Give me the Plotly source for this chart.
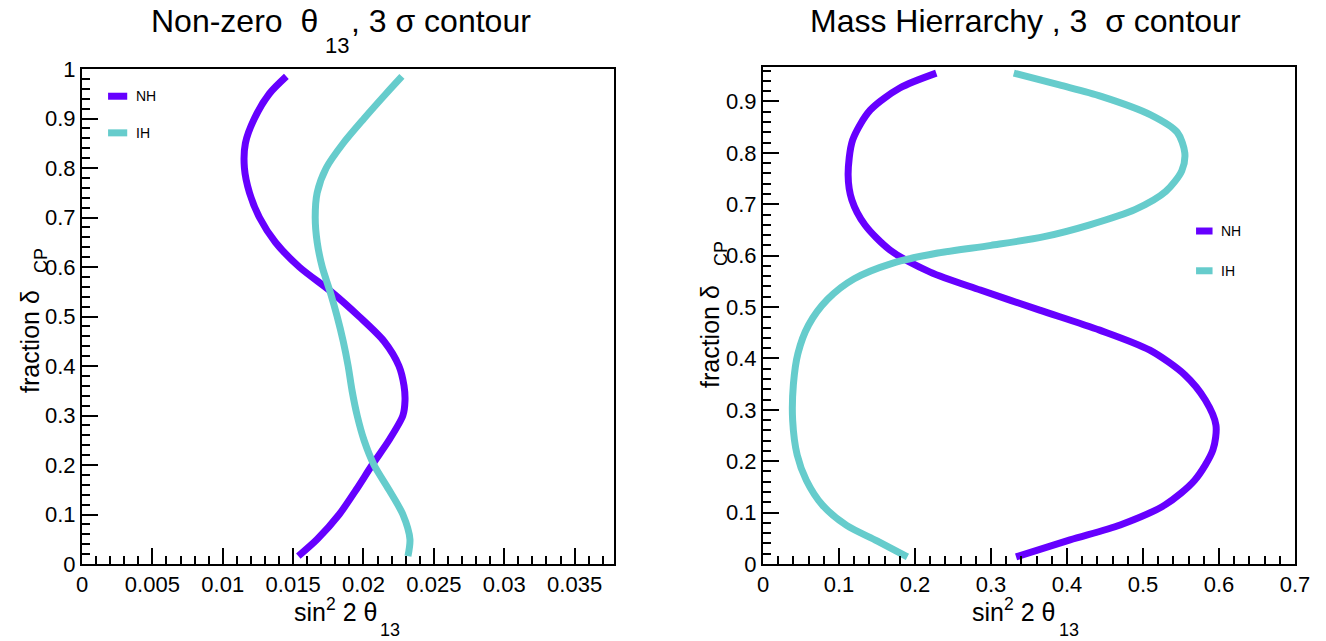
import plotly.graph_objects as go

FONT = "Liberation Sans, Arial, Helvetica, sans-serif"
NH_COLOR = "#6600ff"
IH_COLOR = "#66cccc"
LINE_W = 7

# ---- Non-zero theta13, 3 sigma contour ----
nz_nh_x = [0.01537, 0.01671, 0.01827, 0.01948, 0.02061, 0.02181, 0.02280, 0.02295,
           0.02288, 0.02252, 0.02146, 0.01969, 0.01771, 0.01544, 0.01374, 0.01261,
           0.01190, 0.01154, 0.01161, 0.01225, 0.01331, 0.01452]
nz_nh_y = [0.016, 0.05, 0.10, 0.15, 0.20, 0.25, 0.30, 0.33,
           0.36, 0.40, 0.45, 0.50, 0.55, 0.60, 0.65, 0.70,
           0.75, 0.80, 0.85, 0.90, 0.95, 0.985]

nz_ih_x = [0.02316, 0.02330, 0.02280, 0.02181, 0.02075, 0.02004, 0.01955, 0.01919,
           0.01891, 0.01856, 0.01813, 0.01763, 0.01707, 0.01671, 0.01657, 0.01671,
           0.01735, 0.01856, 0.02004, 0.02160, 0.02273]
nz_ih_y = [0.016, 0.05, 0.10, 0.15, 0.20, 0.25, 0.30, 0.35,
           0.40, 0.45, 0.50, 0.55, 0.60, 0.65, 0.70, 0.75,
           0.80, 0.85, 0.90, 0.95, 0.985]

# ---- Mass hierarchy, 3 sigma contour ----
mh_nh_x = [0.333, 0.404, 0.470, 0.529, 0.568, 0.592, 0.596, 0.582, 0.555, 0.509,
           0.443, 0.364, 0.286, 0.220, 0.167, 0.134, 0.117, 0.112, 0.118, 0.141,
           0.180, 0.228]
mh_nh_y = [0.014, 0.047, 0.076, 0.115, 0.163, 0.222, 0.270, 0.319, 0.368, 0.416,
           0.455, 0.494, 0.533, 0.568, 0.611, 0.660, 0.708, 0.757, 0.825, 0.883,
           0.926, 0.955]

mh_ih_x = [0.190, 0.150, 0.110, 0.078, 0.057, 0.045, 0.039, 0.040, 0.046, 0.060,
           0.085, 0.120, 0.170, 0.230, 0.300, 0.370, 0.430, 0.490, 0.530, 0.551,
           0.555, 0.545, 0.510, 0.445, 0.390, 0.330]
mh_ih_y = [0.014, 0.045, 0.075, 0.115, 0.163, 0.212, 0.280, 0.350, 0.410, 0.465,
           0.515, 0.555, 0.585, 0.605, 0.620, 0.637, 0.660, 0.690, 0.725, 0.765,
           0.800, 0.840, 0.874, 0.910, 0.932, 0.955]

# ---- Axis ticks ----
nz_xticks = [0, 0.005, 0.01, 0.015, 0.02, 0.025, 0.03, 0.035]
nz_xlabels = ["0", "0.005", "0.01", "0.015", "0.02", "0.025", "0.03", "0.035"]
nz_yticks = [0, 0.1, 0.2, 0.3, 0.4, 0.5, 0.6, 0.7, 0.8, 0.9, 1.0]
nz_ylabels = ["0", "0.1", "0.2", "0.3", "0.4", "0.5", "0.6", "0.7", "0.8", "0.9", "1"]
mh_xticks = [0, 0.1, 0.2, 0.3, 0.4, 0.5, 0.6, 0.7]
mh_xlabels = ["0", "0.1", "0.2", "0.3", "0.4", "0.5", "0.6", "0.7"]
mh_yticks = [0, 0.1, 0.2, 0.3, 0.4, 0.5, 0.6, 0.7, 0.8, 0.9]
mh_ylabels = ["0", "0.1", "0.2", "0.3", "0.4", "0.5", "0.6", "0.7", "0.8", "0.9"]

W, H = 1326, 641

fig = go.Figure()

def curve(x, y, color, xa, ya):
    return go.Scatter(x=x, y=y, mode="lines", xaxis=xa, yaxis=ya, showlegend=False,
                      line=dict(color=color, width=LINE_W, shape="spline", smoothing=0.8),
                      hoverinfo="skip")

fig.add_trace(curve(nz_nh_x, nz_nh_y, NH_COLOR, "x", "y"))
fig.add_trace(curve(nz_ih_x, nz_ih_y, IH_COLOR, "x", "y"))
fig.add_trace(curve(mh_nh_x, mh_nh_y, NH_COLOR, "x2", "y2"))
fig.add_trace(curve(mh_ih_x, mh_ih_y, IH_COLOR, "x2", "y2"))

def axis(domain, rng, tickvals, ticktext, minor_dtick, anchor):
    return dict(domain=domain, range=rng, anchor=anchor, automargin=False,
                tickmode="array", tickvals=tickvals, ticktext=ticktext,
                ticks="inside", ticklen=16, tickwidth=1.5, tickcolor="black",
                minor=dict(dtick=minor_dtick, tick0=0, ticks="inside", ticklen=8,
                           tickwidth=1.5, tickcolor="black", showgrid=False),
                showline=True, mirror=True, linecolor="black", linewidth=2,
                showgrid=False, zeroline=False,
                tickfont=dict(family=FONT, size=22, color="black"))

fig.update_layout(
    width=W, height=H,
    margin=dict(l=0, r=0, t=0, b=0, autoexpand=False),
    paper_bgcolor="white", plot_bgcolor="white",
    xaxis=axis([82 / W, 614 / W], [0, 0.0378], nz_xticks, nz_xlabels, 0.001, "y"),
    yaxis=axis([1 - 564 / H, 1 - 69 / H], [0, 1.0], nz_yticks, nz_ylabels, 0.02, "x"),
    xaxis2=axis([763 / W, 1295 / W], [0, 0.7], mh_xticks, mh_xlabels, 0.02, "y2"),
    yaxis2=axis([1 - 564 / H, 1 - 67 / H], [0, 0.967], mh_yticks, mh_ylabels, 0.02, "x2"),
)

def px_x(p):
    return p / W

def px_y(p):
    return 1 - p / H

annotations = []

def text(t, x, y, size, xanchor="center", angle=0):
    annotations.append(dict(text=t, x=px_x(x), y=px_y(y), xref="paper", yref="paper",
                            showarrow=False, xanchor=xanchor, yanchor="middle",
                            textangle=angle, font=dict(family=FONT, size=size, color="black")))

# plot titles (subscripts set low, as in the TLatex rendering)
text("Non-zero  θ", 320, 21, 32, xanchor="right")
text("13", 337, 46, 22)
text(", 3 σ contour", 349, 21, 32, xanchor="left")
text("Mass Hierrarchy , 3  σ contour", 1025, 21, 32)

# x axis titles
for right_edge, sub_x in ((379, 390), (1057, 1069)):
    text("sin<sup>2</sup> 2 θ", right_edge, 610, 25, xanchor="right")
    text("13", sub_x, 630, 18)

# y axis titles
for cx, cy, sx, sy in ((30, 342, 41, 261), (710, 337, 721, 253)):
    text("fraction δ", cx, cy, 25, angle=-90)
    text("CP", sx, sy, 18, angle=-90)

# legend boxes
legend_items = [
    ("x", "y", 0.049, 0.085, 0.945, "NH", NH_COLOR),
    ("x", "y", 0.049, 0.085, 0.871, "IH", IH_COLOR),
    ("x2", "y2", 0.814, 0.845, 0.670, "NH", NH_COLOR),
    ("x2", "y2", 0.814, 0.845, 0.590, "IH", IH_COLOR),
]
shapes = []
for xa, ya, x0, x1, yy, label, color in legend_items:
    shapes.append(dict(type="line", xref=f"{xa} domain", yref=f"{ya} domain",
                       x0=x0, x1=x1, y0=yy, y1=yy, line=dict(color=color, width=LINE_W)))
    annotations.append(dict(text=label, xref=f"{xa} domain", yref=f"{ya} domain",
                            x=x1 + 0.012, y=yy, xanchor="left", yanchor="middle",
                            showarrow=False, font=dict(family=FONT, size=14, color="black")))

fig.update_layout(annotations=annotations, shapes=shapes)

fig.write_html("out.html")
